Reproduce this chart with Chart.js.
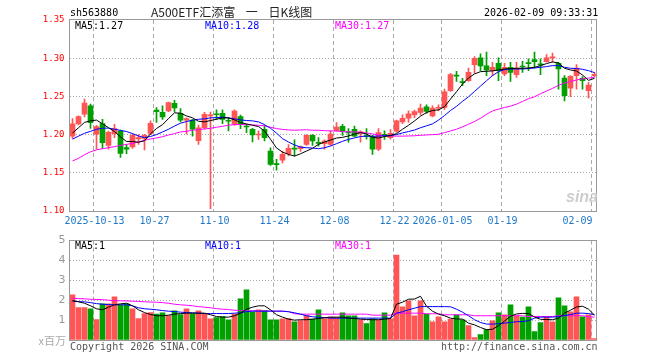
<!DOCTYPE html>
<html>
<head>
<meta charset="utf-8">
<script src="https://cdn.jsdelivr.net/npm/chart.js@4.4.1/dist/chart.umd.min.js"></script>
<style>
body{margin:0;background:#fff;width:660px;height:360px;overflow:hidden;position:relative;font-family:"DejaVu Sans Mono",monospace;}
canvas{position:absolute;left:0;}
#k{top:0;}
#v{top:230px;}
.t{position:absolute;white-space:nowrap;font-size:10px;line-height:12px;}
</style>
</head>
<body>
<canvas id="k" width="660" height="230"></canvas>
<canvas id="v" width="660" height="130"></canvas>

<div class="t" style="left:70px;top:7px;color:#000">sh563880</div>
<div class="t" style="left:151px;top:5px;font-family:'Noto Sans CJK SC';font-size:12px;line-height:14px;word-spacing:8px;color:#222">A500ETF汇添富 一 日K线图</div>
<div class="t" style="left:484px;top:7px;color:#000">2026-02-09 09:33:31</div>

<div class="t" style="left:75px;top:20px;color:#000">MA5:1.27</div>
<div class="t" style="left:205px;top:20px;color:#0000ff">MA10:1.28</div>
<div class="t" style="left:335px;top:20px;color:#ff00ff">MA30:1.27</div>

<div class="t" style="left:566px;top:191px;font-family:'Liberation Sans';font-size:16px;font-weight:bold;font-style:italic;color:#cdcdcd">sina</div>

<div class="t" style="left:75px;top:240px;color:#000">MA5:1</div>
<div class="t" style="left:205px;top:240px;color:#0000ff">MA10:1</div>
<div class="t" style="left:335px;top:240px;color:#ff00ff">MA30:1</div>

<div class="t" style="right:594px;top:334px;font-family:'Noto Sans CJK SC';font-size:11px;line-height:12px;color:#aaa">x百万</div>
<div class="t" style="left:70px;top:341px;color:#555">Copyright 2026 SINA.COM</div>
<div class="t" style="left:441px;top:341px;color:#555">http://finance.sina.com.cn</div>

<script>
// trading days shown, 2025-09-29 .. 2026-02-09
const dates = ['09-29','09-30','10-09','10-10','10-13','10-14','10-15','10-16','10-17','10-20',
'10-21','10-22','10-23','10-24','10-27','10-28','10-29','10-30','10-31','11-03',
'11-04','11-05','11-06','11-07','11-10','11-11','11-12','11-13','11-14','11-17',
'11-18','11-19','11-20','11-21','11-24','11-25','11-26','11-27','11-28','12-01',
'12-02','12-03','12-04','12-05','12-08','12-09','12-10','12-11','12-12','12-15',
'12-16','12-17','12-18','12-19','12-22','12-23','12-24','12-25','12-26','12-29',
'12-30','12-31','01-05','01-06','01-07','01-08','01-09','01-12','01-13','01-14',
'01-15','01-16','01-19','01-20','01-21','01-22','01-23','01-26','01-27','01-28',
'01-29','01-30','02-02','02-03','02-04','02-05','02-06','02-09'];

const open = [1.198,1.214,1.2267,1.2377,1.2004,1.2144,1.186,1.2013,1.2047,1.183,
1.184,1.1945,1.195,1.2017,1.232,1.229,1.231,1.241,1.228,1.219,
1.219,1.192,1.209,1.2245,1.227,1.228,1.2185,1.2136,1.2236,1.211,
1.207,1.1995,1.207,1.1785,1.162,1.1664,1.175,1.1825,1.1815,1.187,
1.199,1.1895,1.188,1.187,1.205,1.2108,1.203,1.207,1.2015,1.1985,
1.1975,1.181,1.2005,1.196,1.2045,1.2166,1.2214,1.2256,1.2289,1.2364,
1.2245,1.2345,1.2355,1.2574,1.2775,1.2695,1.2706,1.2916,1.3004,1.2899,
1.2837,1.2934,1.2793,1.2881,1.2785,1.2895,1.294,1.2982,1.2922,1.2956,
1.3005,1.2934,1.2741,1.2609,1.2772,1.2736,1.2574,1.277];

const high = [1.221,1.2245,1.2464,1.240,1.212,1.220,1.2045,1.2136,1.206,1.187,
1.201,1.200,1.2004,1.218,1.2355,1.2376,1.2425,1.245,1.234,1.2218,
1.220,1.2126,1.229,1.2295,1.2324,1.2324,1.2223,1.2324,1.2254,1.2136,
1.2083,1.2048,1.2122,1.1828,1.1675,1.1785,1.187,1.193,1.185,1.200,
1.200,1.196,1.193,1.205,1.2157,1.2135,1.208,1.211,1.205,1.208,
1.199,1.208,1.2048,1.2065,1.219,1.226,1.231,1.232,1.2399,1.239,
1.2375,1.239,1.2596,1.2803,1.2828,1.2736,1.2872,1.3022,1.3057,1.3079,
1.2947,1.3004,1.2934,1.2947,1.2947,1.296,1.2991,1.3079,1.2991,1.3048,
1.3066,1.2947,1.2772,1.2772,1.2916,1.2758,1.2684,1.2815];

const low = [1.195,1.2127,1.2232,1.208,1.181,1.182,1.181,1.196,1.170,1.175,
1.182,1.187,1.180,1.200,1.216,1.220,1.230,1.2297,1.2166,1.2004,
1.198,1.187,1.207,1.103,1.220,1.2144,1.2048,1.212,1.2079,1.2026,
1.1903,1.1938,1.1916,1.1596,1.1534,1.163,1.172,1.172,1.178,1.186,
1.186,1.185,1.181,1.186,1.204,1.199,1.190,1.197,1.190,1.194,
1.174,1.179,1.1938,1.194,1.203,1.2144,1.216,1.222,1.2258,1.2276,
1.2232,1.2311,1.233,1.2565,1.2697,1.264,1.2697,1.2803,1.2837,1.2772,
1.2772,1.2706,1.2772,1.2697,1.2750,1.2815,1.2837,1.2872,1.2785,1.2947,
1.2947,1.2596,1.2442,1.2495,1.2596,1.2596,1.2478,1.2755];

const close = [1.214,1.2236,1.2412,1.2157,1.2105,1.1894,1.203,1.2079,1.1754,1.181,
1.199,1.196,1.199,1.2149,1.230,1.2232,1.242,1.235,1.219,1.221,
1.207,1.2087,1.2265,1.226,1.226,1.220,1.2175,1.2307,1.2136,1.210,
1.1995,1.2005,1.196,1.161,1.1605,1.1741,1.182,1.181,1.184,1.199,
1.1916,1.1885,1.1915,1.2008,1.210,1.204,1.2022,1.198,1.2035,1.1975,
1.181,1.2026,1.1985,1.2015,1.218,1.2212,1.2272,1.230,1.2346,1.2302,
1.2346,1.2355,1.256,1.2785,1.2765,1.268,1.2815,1.2999,1.2899,1.2846,
1.2881,1.2837,1.2881,1.2815,1.2872,1.2885,1.293,1.2956,1.2912,1.3004,
1.3015,1.2859,1.2509,1.2763,1.2872,1.2706,1.2649,1.279];

const ma5 = [1.202,1.209,1.216,1.218,1.219,1.214,1.209,1.204,1.197,1.191,
1.191,1.190,1.192,1.201,1.208,1.213,1.221,1.2285,1.228,1.2245,
1.222,1.2175,1.2166,1.2184,1.2201,1.2219,1.2219,1.2193,1.2157,1.214,
1.2122,1.2105,1.2048,1.1938,1.1825,1.1771,1.1741,1.1719,1.1749,1.1785,
1.182,1.1872,1.1903,1.1929,1.1955,1.1964,1.1982,1.2008,1.2026,1.2008,
1.1964,1.1955,1.1975,1.1986,1.2013,1.207,1.2122,1.2179,1.2241,1.2289,
1.2315,1.2324,1.2364,1.2465,1.2561,1.2662,1.2741,1.2794,1.2824,1.2829,
1.2833,1.2846,1.2859,1.2864,1.2868,1.2868,1.2872,1.2881,1.2903,1.2929,
1.2951,1.2938,1.2868,1.2846,1.2833,1.278,1.271,1.2736];

const ma10 = [1.194,1.198,1.2017,1.2043,1.207,1.2083,1.2085,1.207,1.2055,1.204,
1.2013,1.1982,1.196,1.1975,1.200,1.2035,1.207,1.2112,1.2149,1.2171,
1.2188,1.2201,1.2206,1.2219,1.2223,1.2228,1.2219,1.2206,1.2193,1.2184,
1.218,1.2166,1.2131,1.2083,1.202,1.1947,1.1903,1.1864,1.1837,1.1828,
1.1824,1.1815,1.1828,1.185,1.1881,1.1912,1.1938,1.1956,1.1975,1.198,
1.1978,1.198,1.1985,1.199,1.200,1.2022,1.204,1.206,1.209,1.2115,
1.214,1.219,1.225,1.2315,1.237,1.2435,1.2495,1.2565,1.2635,1.2705,
1.2772,1.2824,1.2851,1.2859,1.2859,1.2859,1.2864,1.2872,1.2881,1.289,
1.2903,1.2903,1.2881,1.2868,1.2864,1.2855,1.2837,1.2811];

const ma30 = [1.1655,1.169,1.1736,1.1775,1.180,1.1815,1.1829,1.1842,1.1859,1.1872,
1.1886,1.1903,1.1925,1.1943,1.1956,1.1973,1.1995,1.2013,1.2035,1.2043,
1.2057,1.2065,1.2074,1.2083,1.2096,1.2109,1.2122,1.2131,1.2131,1.2131,
1.2127,1.2122,1.2114,1.2096,1.2079,1.2068,1.2061,1.2057,1.2061,1.2063,
1.2057,1.2057,1.2052,1.2048,1.2048,1.2039,1.2035,1.2035,1.203,1.2022,
1.2008,1.1995,1.1985,1.1982,1.198,1.198,1.1982,1.1985,1.1991,1.1995,
1.200,1.2004,1.2026,1.2048,1.207,1.2101,1.2136,1.2171,1.2214,1.2265,
1.231,1.2333,1.2355,1.2372,1.2399,1.2434,1.247,1.2495,1.2535,1.257,
1.2605,1.2645,1.2675,1.2695,1.2715,1.273,1.274,1.275];

// volume, millions
const vol = [2.27,1.63,1.63,1.57,1.03,1.82,1.82,2.17,1.77,1.82,
1.57,1.08,1.33,1.38,1.30,1.37,1.23,1.47,1.28,1.57,
1.32,1.47,1.30,1.07,1.13,1.18,1.02,1.30,2.07,2.52,
1.40,1.52,1.48,1.02,1.02,1.07,1.08,0.92,0.98,1.23,
1.05,1.52,1.08,1.15,1.13,1.37,1.22,1.22,1.02,0.82,
1.07,1.02,1.37,1.07,4.27,1.67,1.97,1.22,1.97,1.30,
0.92,1.17,0.92,1.05,1.27,1.02,0.72,0.12,0.27,0.52,
0.97,1.37,1.27,1.77,1.22,1.15,1.67,0.42,0.87,1.15,
0.92,2.12,1.72,1.42,2.17,1.17,1.27,0.07];

const vma5 = [1.98,1.92,1.85,1.72,1.57,1.52,1.65,1.77,1.82,1.85,
1.72,1.52,1.38,1.28,1.22,1.22,1.25,1.30,1.33,1.35,
1.35,1.35,1.35,1.27,1.18,1.15,1.15,1.22,1.35,1.55,
1.65,1.72,1.72,1.52,1.27,1.15,1.05,1.00,1.02,1.02,
1.05,1.08,1.12,1.15,1.15,1.15,1.10,1.08,1.05,1.03,
1.02,1.02,1.05,1.08,1.80,1.90,2.05,2.06,2.20,1.70,
1.45,1.30,1.22,1.10,1.06,1.05,0.85,0.76,0.63,0.52,
0.54,0.72,0.95,1.20,1.31,1.34,1.33,1.16,1.04,1.03,
1.02,1.10,1.35,1.50,1.66,1.70,1.55,1.25];

const vma10 = [1.96,1.93,1.92,1.88,1.83,1.80,1.78,1.77,1.77,1.77,
1.72,1.62,1.57,1.55,1.52,1.48,1.45,1.43,1.40,1.38,
1.37,1.35,1.33,1.33,1.33,1.33,1.33,1.35,1.37,1.43,
1.45,1.45,1.45,1.45,1.45,1.45,1.42,1.37,1.30,1.22,
1.17,1.14,1.13,1.10,1.10,1.10,1.10,1.10,1.10,1.10,
1.10,1.10,1.10,1.10,1.35,1.42,1.52,1.60,1.68,1.68,
1.68,1.68,1.68,1.67,1.55,1.40,1.22,1.02,0.88,0.80,
0.80,0.82,0.85,0.88,0.92,0.93,0.97,1.10,1.15,1.15,
1.15,1.18,1.23,1.28,1.35,1.35,1.33,1.27];

const vma30 = [2.10,2.08,2.07,2.05,2.04,2.03,2.00,1.98,1.97,1.97,
1.95,1.94,1.92,1.91,1.90,1.88,1.85,1.80,1.77,1.75,
1.72,1.68,1.65,1.62,1.58,1.55,1.53,1.50,1.48,1.47,
1.47,1.47,1.46,1.46,1.45,1.45,1.43,1.32,1.30,1.30,
1.30,1.30,1.30,1.30,1.30,1.30,1.30,1.30,1.30,1.30,
1.25,1.25,1.25,1.25,1.35,1.35,1.35,1.35,1.35,1.32,
1.32,1.32,1.27,1.27,1.27,1.27,1.27,1.22,1.22,1.22,
1.22,1.22,1.22,1.22,1.22,1.22,1.18,1.18,1.18,1.18,
1.18,1.22,1.22,1.22,1.22,1.22,1.17,1.15];

const tickDays = ['10-13','10-27','11-10','11-24','12-08','12-22','01-05','01-19','02-09'];
const tickText = ['2025-10-13','10-27','11-10','11-24','12-08','12-22','2026-01-05','01-19','02-09'];
const priceTicks = [1.10,1.15,1.20,1.25,1.30,1.35];
const volTicks = [0,1,2,3,4,5];


const RED = '#ff5555', GREEN = '#00a000';
const colors = close.map((c, i) => c >= open[i] ? RED : GREEN);
const tickIdx = tickDays.map(d => dates.indexOf(d));
const MONO = 'DejaVu Sans Mono';

// box round the plot area
const frame = {
  id: 'frame',
  afterDraw(chart) {
    const a = chart.chartArea, c = chart.ctx;
    const l = Math.floor(a.left) + 0.5, t = Math.round(a.top) - 0.5;
    const r = Math.floor(a.right) - 0.5, b = Math.round(a.bottom) + 0.5;
    c.save();
    c.strokeStyle = '#999';
    c.lineWidth = 1;
    c.strokeRect(l, t, r - l, b - t);
    c.restore();
  }
};

function vGrid(c) {
  return tickIdx.includes(c.index) ? '#aaa' : 'rgba(0,0,0,0)';
}

function line(data, color) {
  return {type: 'line', data: data, borderColor: color, borderWidth: 1,
    pointRadius: 0, tension: 0, fill: false, order: 0};
}


new Chart(document.getElementById('k'), {
  type: 'bar',
  data: {
    labels: dates,
    datasets: [
      line(ma5, '#000000'),
      line(ma10, '#0000ff'),
      line(ma30, '#ff00ff'),
      {
        data: dates.map((d, i) => [low[i], high[i]]),
        backgroundColor: colors,
        barThickness: 1,
        grouped: false,
        order: 2
      },
      {
        data: dates.map((d, i) => [open[i], close[i]]),
        backgroundColor: colors,
        barThickness: 5,
        minBarLength: 1,
        grouped: false,
        order: 1
      }
    ]
  },
  options: {
    responsive: false,
    animation: false,
    layout: {padding: {left: 0, right: 62.5, top: 20, bottom: 0}},
    plugins: {legend: {display: false}, tooltip: {enabled: false}},
    scales: {
      x: {
        offset: true,
        grid: {offset: true, drawTicks: false, color: vGrid},
        border: {display: false, dash: [4, 3]},
        ticks: {
          autoSkip: false, maxRotation: 0, padding: 4, labelOffset: -2,
          color: '#1f78c8', font: {family: MONO, size: 10},
          callback: (v, i) => {
            const k = tickDays.indexOf(dates[i]);
            if (k < 0) return '';
            return i === dates.length - 1 ? tickText[k] + '     ' : tickText[k];
          }
        },
        afterFit: s => { s.height = 19; }
      },
      y: {
        min: 1.10, max: 1.35,
        afterBuildTicks: s => { s.ticks = priceTicks.map(v => ({value: v})); },
        ticks: {color: '#ff0000', padding: 5, font: {family: MONO, size: 9},
          callback: v => v.toFixed(2)},
        grid: {drawTicks: false,
          color: c => (c.index > 0 && c.index < priceTicks.length - 1) ? '#aaa' : 'rgba(0,0,0,0)'},
        border: {display: false, dash: [1, 2]},
        afterFit: s => { s.width = 69.5; }
      }
    }
  },
  plugins: [frame]
});


new Chart(document.getElementById('v'), {
  type: 'bar',
  data: {
    labels: dates,
    datasets: [
      line(vma5, '#000000'),
      line(vma10, '#0000ff'),
      line(vma30, '#ff00ff'),
      {data: vol, backgroundColor: colors, barThickness: 5, order: 1}
    ]
  },
  options: {
    responsive: false,
    animation: false,
    layout: {padding: {left: 0, right: 62.5, top: 10, bottom: 20}},
    plugins: {legend: {display: false}, tooltip: {enabled: false}},
    scales: {
      x: {
        offset: true,
        grid: {offset: true, drawTicks: false, color: vGrid},
        border: {display: false, dash: [4, 3]},
        ticks: {display: false},
        afterFit: s => { s.height = 0; }
      },
      y: {
        min: 0, max: 5,
        afterBuildTicks: s => { s.ticks = volTicks.map(v => ({value: v})); },
        ticks: {color: '#999', padding: 4, font: {family: 'DejaVu Sans', size: 11},
          callback: v => v === 0 ? '' : String(v)},
        grid: {drawTicks: false,
          color: c => (c.index > 0 && c.index < volTicks.length - 1) ? '#aaa' : 'rgba(0,0,0,0)'},
        border: {display: false, dash: [1, 2]},
        afterFit: s => { s.width = 69.5; }
      }
    }
  },
  plugins: [frame]
});
</script>
</body>
</html>
